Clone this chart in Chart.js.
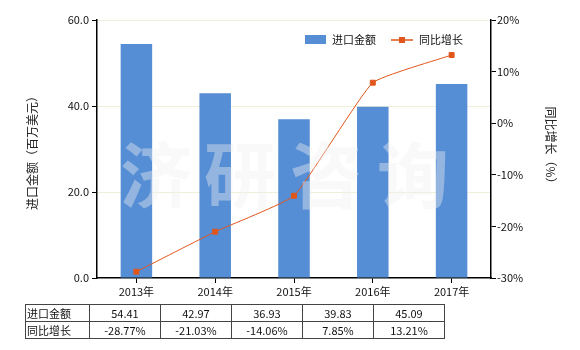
<!DOCTYPE html>
<html>
<head>
<meta charset="utf-8">
<script src="https://cdn.jsdelivr.net/npm/chart.js@4/dist/chart.umd.min.js"></script>
<style>
  body { margin: 0; background: #fff; }
  #wrap { position: relative; width: 580px; height: 350px; }
  #table {
    position: absolute; left: 25px; top: 304px;
    border-collapse: collapse; font: 11px "Noto Sans CJK SC", sans-serif; color: #111;
  }
  #table td { border: 1px solid #444; height: 16px; padding: 0; text-align: center; width: 70px; }
  #table td.head { text-align: left; width: 62px; padding-left: 1px; }
</style>
</head>
<body>
<div id="wrap">
  <canvas id="chart" width="580" height="350"></canvas>
  <table id="table"></table>
</div>
<script>
// 数据
const years = ['2013年', '2014年', '2015年', '2016年', '2017年'];
const importValues = [54.41, 42.97, 36.93, 39.83, 45.09];
const growthRates = [-28.77, -21.03, -14.06, 7.85, 13.21];
const seriesNames = ['进口金额', '同比增长'];
const leftTitle = '进口金额（百万美元）';
const rightTitle = '同比增长（%）';
const watermark = ['济', '研', '咨', '询'];

const barColor = '#558ed5';
const lineColor = '#e0561b';
const fontFamily = '"Noto Sans CJK SC", sans-serif';

// 표 그리기
const table = document.getElementById('table');
const rows = [
    [seriesNames[0]].concat(importValues.map(v => v.toFixed(2))),
    [seriesNames[1]].concat(growthRates.map(v => v.toFixed(2) + '%'))
];
table.innerHTML = rows.map(r => '<tr>' + r.map((c, i) =>
    `<td class="${i === 0 ? 'head' : ''}">${c}</td>`).join('') + '</tr>').join('');

const extras = {
    id: 'extras',
    afterDraw(chart) {
        const ctx = chart.ctx;
        ctx.save();
        // 워터마크
        ctx.fillStyle = 'rgba(240,240,240,0.4)';
        ctx.font = 'bold 72px ' + fontFamily;
        ctx.textAlign = 'center';
        ctx.textBaseline = 'middle';
        [156, 240, 326, 413].forEach((x, i) => ctx.fillText(watermark[i], x, 175));

        // 축 제목
        ctx.fillStyle = '#222';
        ctx.font = '12px ' + fontFamily;
        ctx.save();
        ctx.translate(32, 150);
        ctx.rotate(-Math.PI / 2);
        ctx.fillText(leftTitle, 0, 0);
        ctx.restore();
        ctx.save();
        ctx.translate(551, 148);
        ctx.rotate(Math.PI / 2);
        ctx.fillText(rightTitle, 0, 0);
        ctx.restore();

        // 범례
        ctx.textAlign = 'left';
        ctx.font = '11px ' + fontFamily;
        ctx.fillStyle = barColor;
        ctx.fillRect(305, 35, 21, 9);
        ctx.fillStyle = '#111';
        ctx.fillText(seriesNames[0], 332, 40);
        ctx.strokeStyle = lineColor;
        ctx.lineWidth = 1.5;
        ctx.beginPath();
        ctx.moveTo(391, 40);
        ctx.lineTo(413, 40);
        ctx.stroke();
        ctx.fillStyle = lineColor;
        ctx.fillRect(399, 37, 6, 6);
        ctx.fillStyle = '#111';
        ctx.fillText(seriesNames[1], 419, 40);
        ctx.restore();
    }
};

new Chart(document.getElementById('chart'), {
    data: {
        labels: years,
        datasets: [
            {
                type: 'line',
                label: seriesNames[1],
                data: growthRates,
                yAxisID: 'y1',
                borderColor: lineColor,
                backgroundColor: lineColor,
                borderWidth: 1,
                pointStyle: 'rect',
                pointRadius: 3.5,
                tension: 0.12,
                order: 1
            },
            {
                type: 'bar',
                label: seriesNames[0],
                data: importValues,
                yAxisID: 'y',
                backgroundColor: barColor,
                categoryPercentage: 0.4,
                barPercentage: 1,
                order: 2
            }
        ]
    },
    options: {
        responsive: false,
        animation: false,
        layout: { padding: { top: 20, bottom: 50, left: 0, right: 0 } },
        plugins: { legend: { display: false }, tooltip: { enabled: false } },
        scales: {
            x: {
                grid: { offset: false, drawOnChartArea: false, tickLength: 5, color: '#000' },
                border: { color: '#000', width: 1.5 },
                ticks: { color: '#111', font: { size: 11, family: fontFamily }, padding: 2, maxRotation: 0 },
                afterFit: s => { s.height = 22; }
            },
            y: {
                position: 'left',
                min: 0, max: 60,
                ticks: { stepSize: 20, color: '#111', font: { size: 11, family: fontFamily },
                    callback: v => v.toFixed(1), padding: 3 },
                grid: { color: c => c.tick.value === 0 ? 'rgba(0,0,0,0)' : '#efefd9', tickColor: '#000', tickLength: 5 },
                border: { color: '#000', width: 1.5 },
                afterFit: s => { s.width = 97; }
            },
            y1: {
                position: 'right',
                min: -30, max: 20,
                ticks: { stepSize: 10, color: '#111', font: { size: 11, family: fontFamily },
                    callback: v => v + '%', padding: 1 },
                grid: { drawOnChartArea: false, tickColor: '#000', tickLength: 5 },
                border: { color: '#000', width: 1.5 },
                afterFit: s => { s.width = 89; }
            }
        }
    },
    plugins: [extras]
});
</script>
</body>
</html>
